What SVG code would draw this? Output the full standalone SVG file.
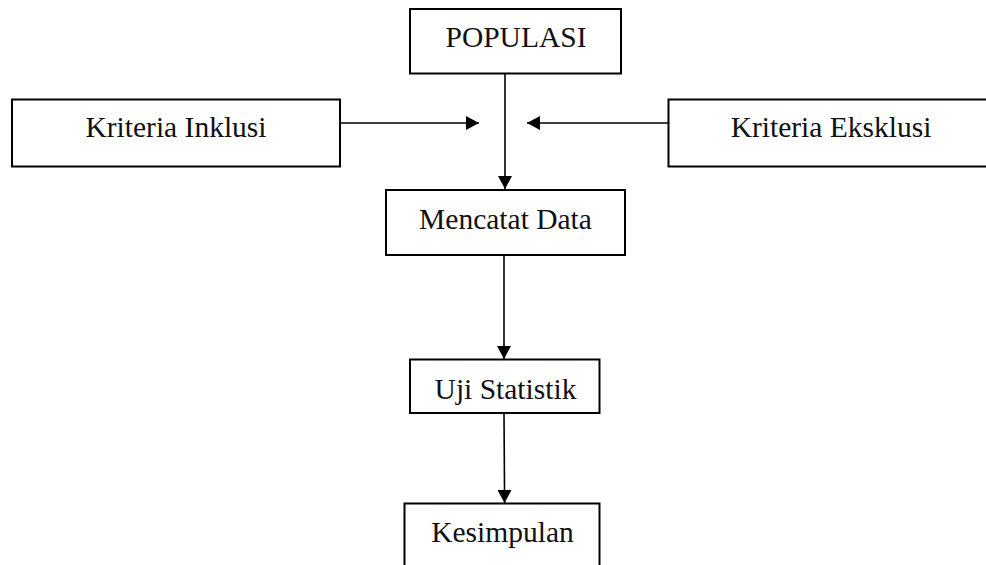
<svg xmlns="http://www.w3.org/2000/svg" width="986" height="565" viewBox="0 0 986 565">
<defs>
<style>
.box{fill:#fff;stroke:#000;stroke-width:2}
.lbl{font-family:"Liberation Serif","Times New Roman",serif;font-size:29.5px;fill:#111;text-anchor:middle}
.con{stroke:#000;stroke-width:1.6;fill:none}
</style>
<marker id="ah" markerUnits="userSpaceOnUse" markerWidth="14" markerHeight="14" refX="13" refY="7" orient="auto" viewBox="0 0 14 14">
<path d="M0,0 L13,7 L0,14 z" fill="#000"/>
</marker>
</defs>
<rect width="986" height="565" fill="#fff"/>
<g id="connectors">
<line class="con" x1="505" y1="74" x2="505" y2="189" marker-end="url(#ah)"/>
<line class="con" x1="341" y1="123" x2="479" y2="123" marker-end="url(#ah)"/>
<line class="con" x1="668" y1="123" x2="527" y2="123" marker-end="url(#ah)"/>
<line class="con" x1="504" y1="256" x2="504" y2="359" marker-end="url(#ah)"/>
<line class="con" x1="504" y1="414" x2="504.6" y2="503" marker-end="url(#ah)"/>
</g>
<g id="populasi">
<rect class="box" x="410" y="9" width="211" height="64.5"/>
<text class="lbl" x="516" y="47">POPULASI</text>
</g>
<g id="kriteria-inklusi">
<rect class="box" x="12" y="99.5" width="328" height="67"/>
<text class="lbl" x="176" y="137">Kriteria Inklusi</text>
</g>
<g id="kriteria-eksklusi">
<rect class="box" x="668.5" y="99.5" width="330" height="67"/>
<text class="lbl" x="831" y="137">Kriteria Eksklusi</text>
</g>
<g id="mencatat-data">
<rect class="box" x="386" y="190" width="239" height="65"/>
<text class="lbl" x="505.5" y="228.5">Mencatat Data</text>
</g>
<g id="uji-statistik">
<rect class="box" x="410" y="359.5" width="189.5" height="53.5"/>
<text class="lbl" x="505.5" y="398.5">Uji Statistik</text>
</g>
<g id="kesimpulan">
<rect class="box" x="404.5" y="503.5" width="195" height="70"/>
<text class="lbl" x="502.5" y="542">Kesimpulan</text>
</g>
</svg>
